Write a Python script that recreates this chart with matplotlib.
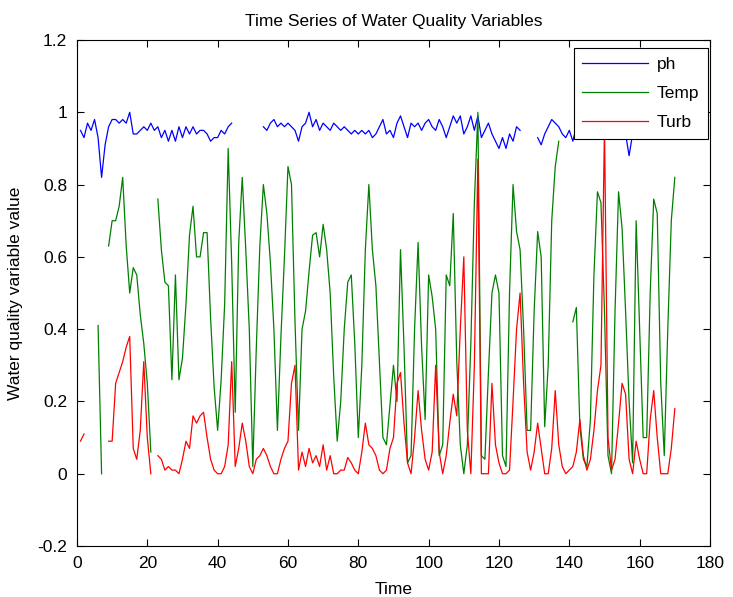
import numpy as np
import matplotlib
matplotlib.use("Agg")
import matplotlib.pyplot as plt

nan = np.nan
time = list(range(1, 171))

ph = [0.95, 0.93, 0.97, 0.95, 0.98, 0.93, 0.82, 0.91, 0.96, 0.98,
      0.98, 0.97, 0.98, 0.97, 1.00, 0.94, 0.94, 0.95, 0.96, 0.95,
      0.97, 0.95, 0.96, 0.93, 0.95, 0.92, 0.95, 0.92, 0.96, 0.93,
      0.96, 0.94, 0.96, 0.94, 0.95, 0.95, 0.94, 0.92, 0.93, 0.93,
      0.95, 0.94, 0.96, 0.97, nan, nan, nan, nan, nan, nan,
      nan, nan, 0.96, 0.95, 0.97, 0.98, 0.96, 0.97, 0.96, 0.97,
      0.96, 0.95, 0.92, 0.96, 0.97, 1.00, 0.96, 0.98, 0.95, 0.97,
      0.96, 0.95, 0.97, 0.96, 0.95, 0.96, 0.95, 0.94, 0.95, 0.94,
      0.95, 0.94, 0.95, 0.93, 0.94, 0.96, 0.98, 0.94, 0.95, 0.93,
      0.97, 0.99, 0.96, 0.93, 0.97, 0.96, 0.97, 0.95, 0.97, 0.98,
      0.96, 0.95, 0.98, 0.96, 0.93, 0.96, 0.99, 0.97, 0.99, 0.94,
      0.96, 0.99, 0.95, 0.99, 0.93, 0.95, 0.97, 0.94, 0.92, 0.90,
      0.93, 0.90, 0.94, 0.92, 0.96, 0.95, nan, nan, nan, nan,
      0.93, 0.91, 0.94, 0.96, 0.98, 0.97, 0.96, 0.94, 0.93, 0.95,
      0.92, 0.96, 0.95, 0.97, 0.94, 0.96, 0.95, 0.97, 0.94, 0.96,
      0.95, 0.97, 0.95, 0.96, 0.95, 0.94, 0.88, 0.94, 0.96, 0.95,
      0.97, 0.95, 0.96, 0.94, 0.96, 0.95, 0.97, 0.95, 0.96, 0.95]

temp = [nan, nan, nan, nan, nan, 0.41, 0.00, nan, 0.63, 0.70,
        0.70, 0.74, 0.82, 0.63, 0.50, 0.57, 0.55, 0.44, 0.36, 0.25,
        0.06, nan, 0.76, 0.62, 0.53, 0.52, 0.26, 0.55, 0.26, 0.32,
        0.47, 0.66, 0.74, 0.60, 0.60, 0.667, 0.667, 0.43, 0.24, 0.12,
        0.26, 0.47, 0.90, 0.58, 0.17, 0.64, 0.82, 0.62, 0.40, 0.02,
        0.35, 0.63, 0.80, 0.72, 0.585, 0.40, 0.12, 0.38, 0.60, 0.85,
        0.80, 0.42, 0.12, 0.40, 0.45, 0.56, 0.66, 0.667, 0.60, 0.69,
        0.62, 0.50, 0.27, 0.09, 0.20, 0.40, 0.53, 0.55, 0.36, 0.10,
        0.30, 0.62, 0.80, 0.62, 0.52, 0.31, 0.10, 0.08, 0.19, 0.30,
        0.20, 0.62, 0.35, 0.03, 0.05, 0.40, 0.64, 0.35, 0.15, 0.55,
        0.49, 0.40, 0.05, 0.08, 0.55, 0.52, 0.72, 0.31, 0.08, 0.00,
        0.08, 0.36, 0.75, 1.00, 0.05, 0.04, 0.28, 0.50, 0.55, 0.50,
        0.05, 0.02, 0.50, 0.80, 0.67, 0.62, 0.40, 0.12, 0.12, 0.45,
        0.67, 0.60, 0.13, 0.30, 0.70, 0.85, 0.92, nan, nan, nan,
        0.42, 0.46, 0.13, 0.04, 0.02, 0.15, 0.55, 0.78, 0.75, 0.45,
        0.05, 0.00, 0.45, 0.78, 0.68, 0.45, 0.20, 0.03, 0.70, 0.40,
        0.10, 0.10, 0.50, 0.76, 0.72, 0.25, 0.05, 0.40, 0.70, 0.82]

turb = [0.09, 0.11, nan, nan, nan, nan, nan, nan, 0.09, 0.09,
        0.25, 0.28, 0.31, 0.35, 0.38, 0.07, 0.04, 0.12, 0.31, 0.10,
        0.00, nan, 0.05, 0.04, 0.01, 0.02, 0.01, 0.01, 0.00, 0.04,
        0.09, 0.07, 0.16, 0.14, 0.16, 0.17, 0.10, 0.04, 0.01, 0.00,
        0.00, 0.02, 0.08, 0.31, 0.02, 0.07, 0.14, 0.09, 0.02, 0.00,
        0.04, 0.05, 0.07, 0.05, 0.02, 0.00, 0.00, 0.04, 0.07, 0.09,
        0.25, 0.30, 0.01, 0.06, 0.02, 0.07, 0.03, 0.05, 0.02, 0.08,
        0.01, 0.05, 0.00, 0.00, 0.01, 0.01, 0.045, 0.03, 0.01, 0.00,
        0.06, 0.14, 0.08, 0.07, 0.05, 0.01, 0.00, 0.01, 0.07, 0.10,
        0.25, 0.28, 0.14, 0.03, 0.00, 0.10, 0.23, 0.12, 0.04, 0.01,
        0.06, 0.30, 0.06, 0.00, 0.05, 0.14, 0.22, 0.16, 0.40, 0.60,
        0.12, 0.00, 0.30, 0.87, 0.00, 0.00, 0.00, 0.25, 0.08, 0.03,
        0.00, 0.00, 0.01, 0.20, 0.40, 0.50, 0.25, 0.06, 0.01, 0.06,
        0.14, 0.07, 0.00, 0.00, 0.07, 0.23, 0.08, 0.02, 0.00, 0.01,
        0.02, 0.06, 0.15, 0.05, 0.01, 0.04, 0.12, 0.23, 0.30, 0.96,
        0.10, 0.01, 0.04, 0.14, 0.25, 0.22, 0.04, 0.00, 0.09, 0.04,
        0.00, 0.00, 0.15, 0.23, 0.10, 0.00, 0.00, 0.00, 0.07, 0.18]

series_names = ["ph", "Temp", "Turb"]
colors = ["#0000ff", "#008000", "#ff0000"]

plt.rcParams['font.family'] = ['Liberation Sans', 'DejaVu Sans']

fig = plt.figure(figsize=(7.33, 5.97), dpi=100)
fig.patch.set_facecolor("white")
ax = fig.add_axes([0.105, 0.0854, 0.8636, 0.8476])

for vals, name, c in zip([ph, temp, turb], series_names, colors):
    ax.plot(time, vals, color=c, lw=0.9, label=name)

ax.set_xlim(0, 180)
ax.set_ylim(-0.2, 1.2)
ax.set_xticks(np.arange(0, 181, 20))
ax.set_yticks(np.round(np.arange(-0.2, 1.21, 0.2), 1))
ax.set_yticklabels(["-0.2", "0", "0.2", "0.4", "0.6", "0.8", "1", "1.2"])
ax.tick_params(direction="in", top=True, right=True, labelsize=12.5,
               length=5, width=0.8, pad=7)
for s in ax.spines.values():
    s.set_linewidth(0.8)

ax.set_title("Time Series of Water Quality Variables", fontsize=12.5, pad=10)
ax.set_xlabel("Time", fontsize=12.5, labelpad=8)
ax.set_ylabel("Water quality variable value", fontsize=12.5, labelpad=10)

leg = ax.legend(loc="upper right", bbox_to_anchor=(0.997, 0.984),
                fontsize=12.5, frameon=True, fancybox=False,
                edgecolor="black", framealpha=1, handlelength=3.8,
                handletextpad=0.5, borderaxespad=0.0, labelspacing=0.8,
                borderpad=0.5)
leg.get_frame().set_linewidth(0.8)

fig.savefig("out.png", dpi=100, facecolor="white")
